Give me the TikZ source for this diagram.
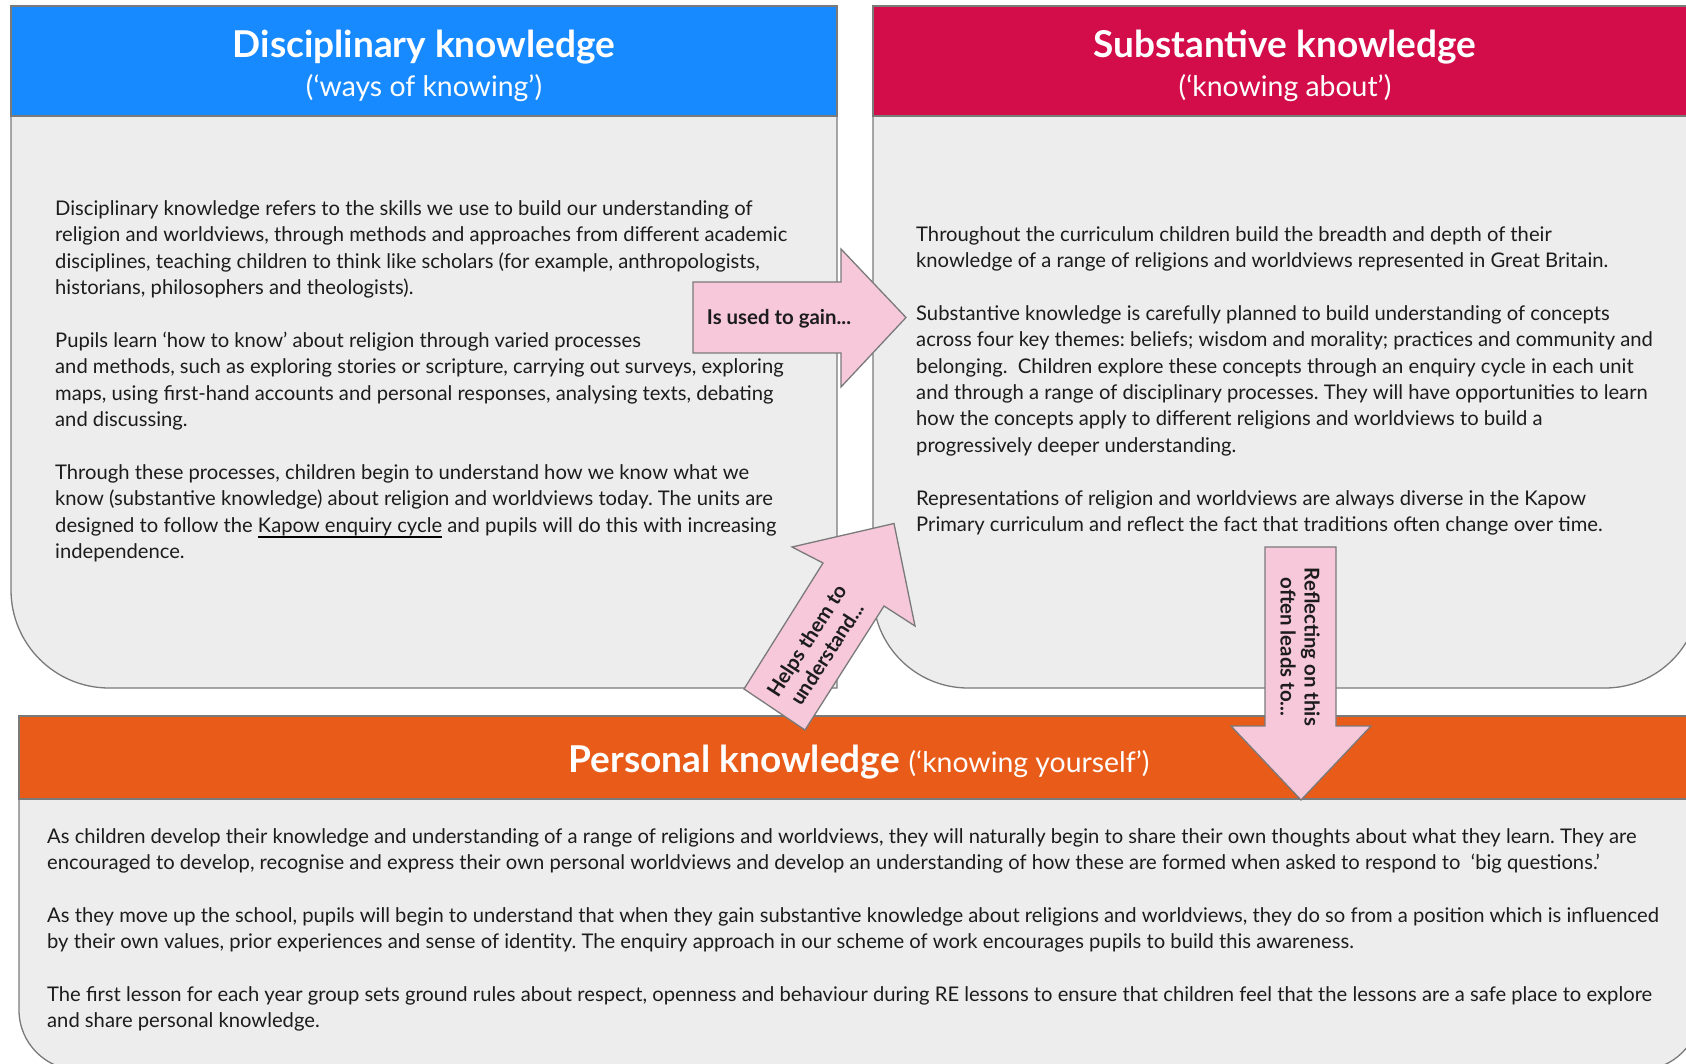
\documentclass[tikz,border=0pt]{standalone}
\usepackage{fontspec}
\setmainfont{Lato}
\frenchspacing
\definecolor{hblue}{HTML}{188AFF}
\definecolor{hred}{HTML}{D30D4A}
\definecolor{horange}{HTML}{E95B19}
\definecolor{pinkfill}{HTML}{F6C8D9}
\definecolor{panelgray}{HTML}{EDEDED}
\definecolor{bordergray}{HTML}{7A7A7A}
\definecolor{textcol}{HTML}{1C1C1C}
\newlength\kapowulw
\newcommand\kapowul[1]{\settowidth{\kapowulw}{#1}\rlap{\color{black}\rule[-5.8pt]{\kapowulw}{1.8pt}}#1}
\begin{document}
\begin{tikzpicture}[x=1pt,y=-1pt,
  panel/.style={fill=panelgray, draw=bordergray, line width=1.3pt},
  header/.style={draw=bordergray, line width=1.3pt},
  blockarrow/.style={fill=pinkfill, draw=bordergray, line width=1.3pt, line join=miter},
  bodytext/.style={anchor=north west, inner sep=0pt, align=left, text=textcol, font=\fontsize{20.2}{26.4}\selectfont},
  titletext/.style={text=white, inner sep=0pt, font=\bfseries\fontsize{37}{40}\selectfont},
  subtitletext/.style={text=white, inner sep=0pt, font=\fontsize{28.4}{30}\selectfont},
  arrowlabel/.style={inner sep=0pt, align=center, text=textcol, font=\bfseries\fontsize{20.4}{24}\selectfont}]
\useasboundingbox (0,0) rectangle (1686,1064);
\clip (0,0) rectangle (1686,1064);
\fill[white] (0,0) rectangle (1686,1064);

% panel bodies
\draw[panel] (11,116) -- (837,116) -- (837,688) -- (109,688)
  arc[start angle=270, end angle=180, radius=98pt] -- cycle;
\draw[panel] (873,116) -- (1700,116) -- (1700,593)
  arc[start angle=0, end angle=-90, radius=95pt] -- (968,688)
  arc[start angle=270, end angle=180, radius=95pt] -- cycle;
\draw[panel] (19,799) -- (1700,799) -- (1700,1010)
  arc[start angle=0, end angle=-90, radius=60pt] -- (79,1070)
  arc[start angle=270, end angle=180, radius=60pt] -- cycle;

% headers
\draw[header, fill=hblue] (11,6) rectangle (837,116);
\draw[header, fill=hred] (873,6) rectangle (1700,116);
\draw[header, fill=horange] (19,716) rectangle (1700,799);

\node[titletext] (dtitle) at (424,47) {Disciplinary knowledge};
\node[subtitletext] (dsub) at (424,88) {(‘ways of knowing’)};
\node[titletext] (stitle) at (1285,47) {Substantive knowledge};
\node[subtitletext] (ssub) at (1285,88) {(‘knowing about’)};
\node[text=white, inner sep=0pt] (ptitle) at (859,762)
  {{\bfseries\fontsize{37}{40}\selectfont Personal knowledge}\hspace{9pt}{\fontsize{28.4}{30}\selectfont(‘knowing yourself’)}};

% body texts
\node[bodytext] (dtext) at (55,200.5) {Disciplinary knowledge refers to the skills we use to build our understanding of\\
religion and worldviews, through methods and approaches from different academic\\
disciplines, teaching children to think like scholars (for example, anthropologists,\\
historians, philosophers and theologists).\\[26.4pt]
Pupils learn ‘how to know’ about religion through varied processes\\
and methods, such as exploring stories or scripture, carrying out surveys, exploring\\
maps, using first-hand accounts and personal responses, analysing texts, debating\\
and discussing.\\[26.4pt]
Through these processes, children begin to understand how we know what we\\
know (substantive knowledge) about religion and worldviews today. The units are\\
designed to follow the \kapowul{Kapow enquiry cycle} and pupils will do this with increasing\\
independence.};

\node[bodytext] (stext) at (916,226) {Throughout the curriculum children build the breadth and depth of their\\
knowledge of a range of religions and worldviews represented in Great Britain.\\[26.4pt]
Substantive knowledge is carefully planned to build understanding of concepts\\
across four key themes: beliefs; wisdom and morality; practices and community and\\
belonging.~ Children explore these concepts through an enquiry cycle in each unit\\
and through a range of disciplinary processes. They will have opportunities to learn\\
how the concepts apply to different religions and worldviews to build a\\
progressively deeper understanding.\\[26.4pt]
Representations of religion and worldviews are always diverse in the Kapow\\
Primary curriculum and reflect the fact that traditions often change over time.};

\node[bodytext] (ptext) at (47,828) {As children develop their knowledge and understanding of a range of religions and worldviews, they will naturally begin to share their own thoughts about what they learn. They are\\
encouraged to develop, recognise and express their own personal worldviews and develop an understanding of how these are formed when asked to respond to~ ‘big questions.’\\[26.4pt]
As they move up the school, pupils will begin to understand that when they gain substantive knowledge about religions and worldviews, they do so from a position which is influenced\\
by their own values, prior experiences and sense of identity. The enquiry approach in our scheme of work encourages pupils to build this awareness.\\[26.4pt]
The first lesson for each year group sets ground rules about respect, openness and behaviour during RE lessons to ensure that children feel that the lessons are a safe place to explore\\
and share personal knowledge.};

% block arrows
\draw[blockarrow] (693,282) -- (841,282) -- (841,249) -- (906,317.5) -- (841,387) -- (841,353) -- (693,353) -- cycle;
\node[arrowlabel] (gain) at (779,319) {Is used to gain...};

\draw[blockarrow] (805,730) -- (744,689) -- (823,563) -- (792,547) -- (894,523.5) -- (915,626) -- (884,606) -- cycle;
\node[arrowlabel, rotate=57.2] (help) at (817,647) {Helps them to\\understand...};

\draw[blockarrow] (1265,547) -- (1336,547) -- (1336,726) -- (1371,726) -- (1301,800) -- (1231,726) -- (1265,726) -- cycle;
\node[arrowlabel, rotate=-90] (reflect) at (1300,647) {Reflecting on this\\often leads to...};
\end{tikzpicture}
\end{document}
